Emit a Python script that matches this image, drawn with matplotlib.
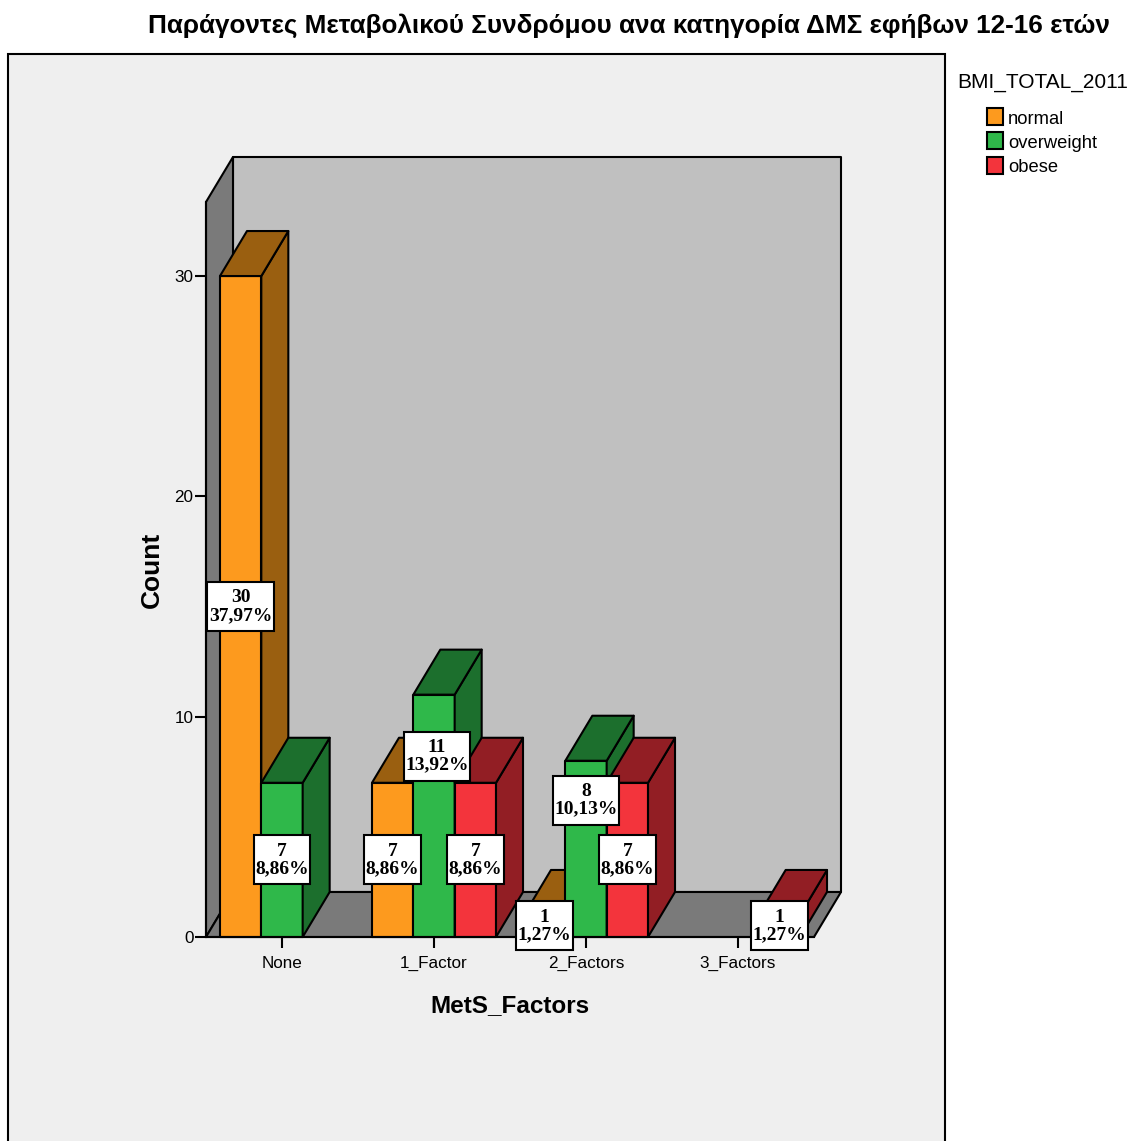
"""Clustered pseudo-3D bar chart of MetS factors by BMI category."""

import matplotlib

matplotlib.use("Agg")
import matplotlib.pyplot as plt
from matplotlib.patches import Polygon, Rectangle
from matplotlib.transforms import IdentityTransform

plt.rcParams["font.family"] = ["Liberation Sans", "DejaVu Sans"]

W, H = 1137, 1141

TITLE = "Παράγοντες Μεταβολικού Συνδρόμου ανα κατηγορία ΔΜΣ εφήβων 12-16 ετών"
categories = ["None", "1_Factor", "2_Factors", "3_Factors"]
series_names = ["normal", "overweight", "obese"]
normal = [30, 7, 1, 0]
overweight = [7, 11, 8, 0]
obese = [0, 7, 7, 1]
normal_pct = ["37,97%", "8,86%", "1,27%", ""]
overweight_pct = ["8,86%", "13,92%", "10,13%", ""]
obese_pct = ["", "8,86%", "8,86%", "1,27%"]
y_ticks = [0, 10, 20, 30]

front_colors = ["#FD9A1E", "#2FB84A", "#F3343C"]
side_colors = ["#9A5F10", "#1C6F2D", "#921E24"]

BAR_W = 0.272
DEPTH_X = 27 / 152
DEPTH_Y = 45 / 22.03
Y_TOP = 33.36
# labels the chart moved off the bar middle to avoid overlaps: (series, category) -> (dx, y)
LABEL_MOVED = {(1, 1): (0.02, 8.2), (1, 2): (0.0, 6.2)}


def px_box(left, top, right, bottom):
    return [left / W, 1 - bottom / H, (right - left) / W, (bottom - top) / H]


def draw_bar(ax, x, value, front, side):
    left, right = x - BAR_W / 2, x + BAR_W / 2
    style = dict(edgecolor="black", linewidth=1.5, joinstyle="round", clip_on=False)
    ax.add_patch(Polygon([(left, 0), (right, 0), (right, value), (left, value)],
                         facecolor=front, **style))
    ax.add_patch(Polygon([(right, 0), (right + DEPTH_X, DEPTH_Y),
                          (right + DEPTH_X, value + DEPTH_Y), (right, value)],
                         facecolor=side, **style))
    ax.add_patch(Polygon([(left, value), (right, value), (right + DEPTH_X, value + DEPTH_Y),
                          (left + DEPTH_X, value + DEPTH_Y)],
                         facecolor=side, **style))


def draw_label(ax, renderer, x, y, text):
    txt = ax.text(x, y, text, family="Liberation Serif", fontweight="bold", fontsize=14,
                  ha="center", va="center", linespacing=1.05, zorder=8, clip_on=False)
    box = txt.get_window_extent(renderer)
    cx, cy = (box.x0 + box.x1) / 2, (box.y0 + box.y1) / 2
    half_w = box.width / 2 + 1.5
    ax.add_patch(Rectangle((cx - half_w, cy - 24.5), 2 * half_w, 49, facecolor="white",
                           edgecolor="black", linewidth=1.5, transform=IdentityTransform(),
                           zorder=7, clip_on=False))


fig = plt.figure(figsize=(W / 100, H / 100), dpi=100, facecolor="white")
fig.add_artist(Rectangle((8 / W, -0.05), 937 / W, 1.05 - 54 / H, facecolor="#EFEFEF",
                         edgecolor="black", linewidth=1.5, transform=fig.transFigure,
                         zorder=-1))

ax = fig.add_axes(px_box(206, 202, 814, 937))
ax.set_xlim(-0.5, 3.5)
ax.set_ylim(0, Y_TOP)
ax.patch.set_visible(False)

wall = dict(edgecolor="black", linewidth=1.5, clip_on=False, joinstyle="round")
x0, x1 = ax.get_xlim()
ax.add_patch(Polygon([(x0 + DEPTH_X, DEPTH_Y), (x1 + DEPTH_X, DEPTH_Y),
                      (x1 + DEPTH_X, Y_TOP + DEPTH_Y), (x0 + DEPTH_X, Y_TOP + DEPTH_Y)],
                     facecolor="#C0C0C0", **wall))
ax.add_patch(Polygon([(x0, 0), (x0 + DEPTH_X, DEPTH_Y), (x0 + DEPTH_X, Y_TOP + DEPTH_Y),
                      (x0, Y_TOP)], facecolor="#7A7A7A", **wall))
ax.add_patch(Polygon([(x0, 0), (x1, 0), (x1 + DEPTH_X, DEPTH_Y), (x0 + DEPTH_X, DEPTH_Y)],
                     facecolor="#7A7A7A", **wall))

all_values = [normal, overweight, obese]
all_pct = [normal_pct, overweight_pct, obese_pct]
for s, values in enumerate(all_values):
    for c, value in enumerate(values):
        if value:
            draw_bar(ax, c + (s - 1) * BAR_W, value, front_colors[s], side_colors[s])

ax.set_xticks(range(len(categories)), categories)
ax.set_yticks(y_ticks)
ax.tick_params(length=8, width=1.5, labelsize=12.3)
ax.tick_params(axis="x", pad=5.5)
ax.tick_params(axis="y", pad=1)
for side in ("top", "right"):
    ax.spines[side].set_visible(False)
for side in ("left", "bottom"):
    ax.spines[side].set_linewidth(1.5)
ax.set_xlabel("MetS_Factors", fontsize=17.5, fontweight="bold", labelpad=16.5)
ax.set_ylabel("Count", fontsize=19, fontweight="bold", labelpad=8)

renderer = fig.canvas.get_renderer()
for s, values in enumerate(all_values):
    for c, value in enumerate(values):
        if value:
            dx, y = LABEL_MOVED.get((s, c), (0.0, value / 2))
            draw_label(ax, renderer, c + (s - 1) * BAR_W + dx, y, f"{value}\n{all_pct[s][c]}")

fig.text(1110 / W, 1 - 26 / H, TITLE, fontsize=18.8, fontweight="bold", ha="right", va="center")
fig.text(957 / W, 1 - 88 / H, "BMI_TOTAL_2011", fontsize=15, va="baseline")
for i, (name, color) in enumerate(zip(series_names, front_colors)):
    cy = 116 + i * 24.5
    fig.add_artist(Rectangle((987 / W, 1 - (cy + 8.5) / H), 16 / W, 17 / H, facecolor=color,
                             edgecolor="black", linewidth=1.5, transform=fig.transFigure))
    fig.text(1008 / W, 1 - (124 + i * 24) / H, name, fontsize=13.2, va="baseline")

fig.savefig("out.png", dpi=100)
